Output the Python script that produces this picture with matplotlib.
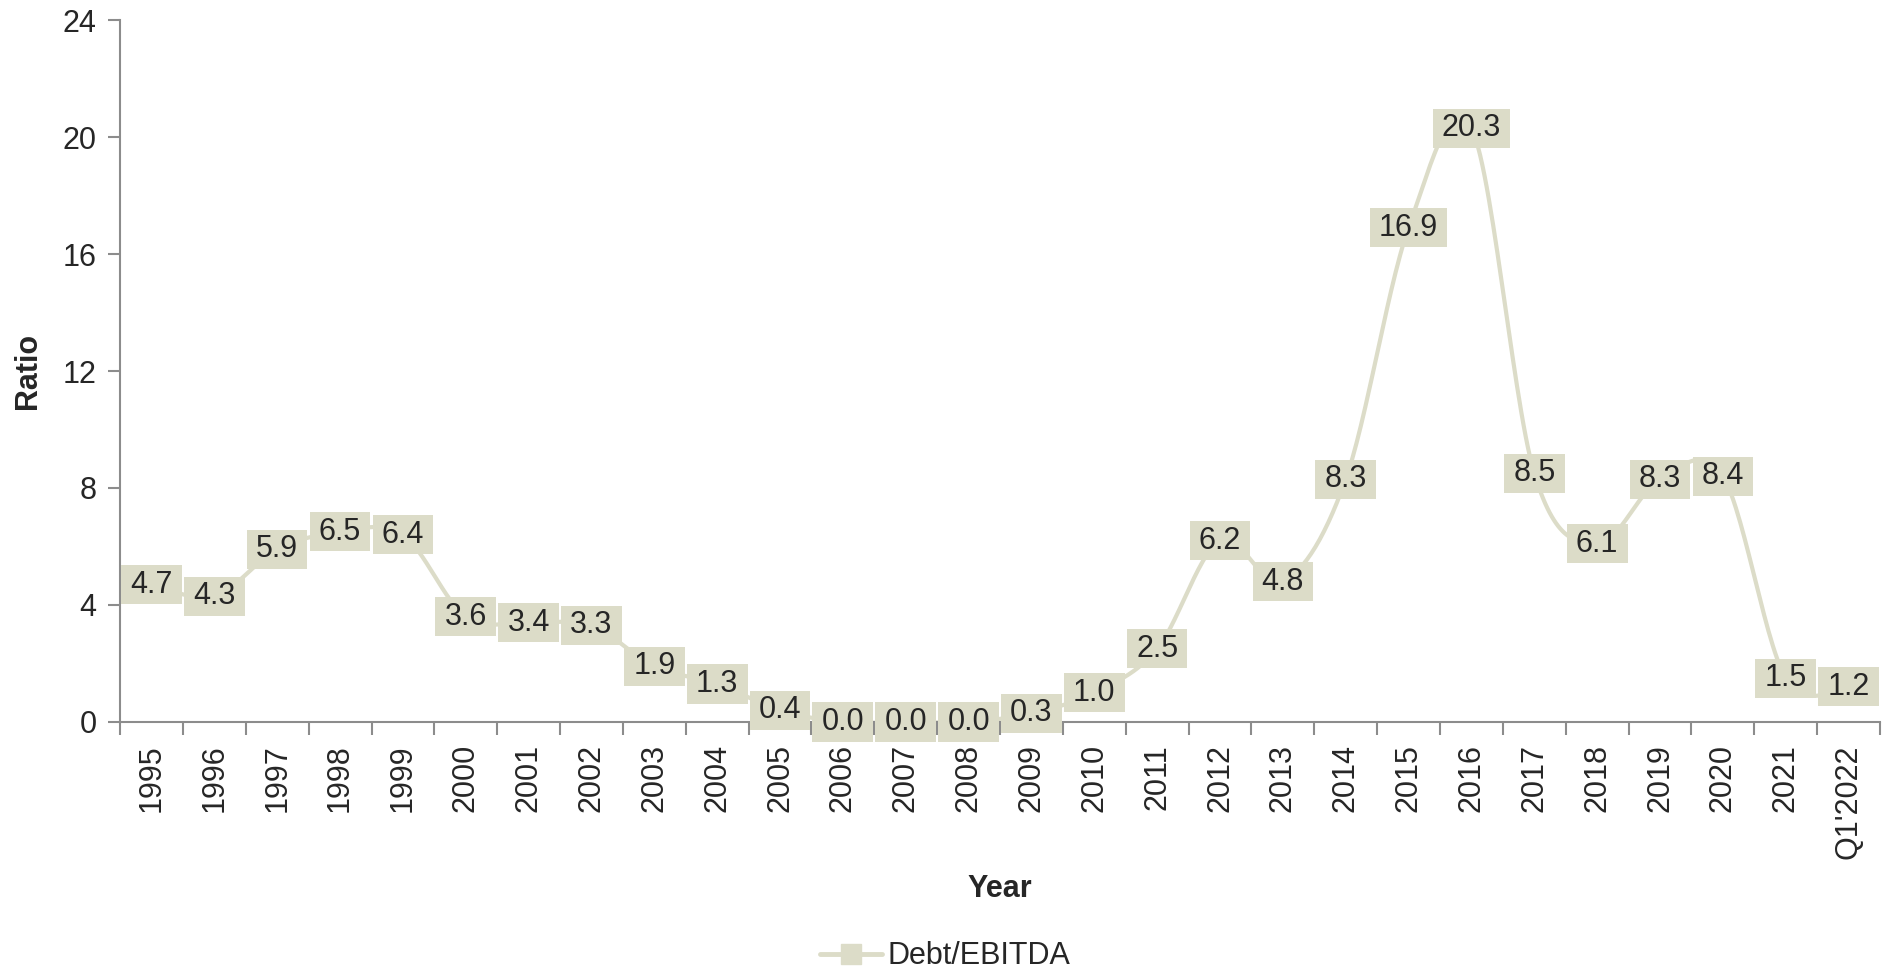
import numpy as np
import matplotlib
matplotlib.use("Agg")
import matplotlib.pyplot as plt
from matplotlib.lines import Line2D
from matplotlib.path import Path

plt.rcParams["font.family"] = ["Liberation Sans", "DejaVu Sans"]

years = ["1995", "1996", "1997", "1998", "1999", "2000", "2001", "2002",
         "2003", "2004", "2005", "2006", "2007", "2008", "2009", "2010",
         "2011", "2012", "2013", "2014", "2015", "2016", "2017", "2018",
         "2019", "2020", "2021", "Q1'2022"]
debt_ebitda = [4.7, 4.3, 5.9, 6.5, 6.4, 3.6, 3.4, 3.3, 1.9, 1.3, 0.4, 0.0,
               0.0, 0.0, 0.3, 1.0, 2.5, 6.2, 4.8, 8.3, 16.9, 20.3, 8.5, 6.1,
               8.3, 8.4, 1.5, 1.2]
y_ticks = [0, 4, 8, 12, 16, 20, 24]

LINE_COL = "#DCDCC8"
TEXT_COL = "#262626"
AXIS_COL = "#8C8C8C"


def smooth_curve(x, y, n=30):
    """Catmull-Rom style smoothing between consecutive points (Bezier, tension 1/6)."""
    x = np.asarray(x, float)
    y = np.asarray(y, float)
    px = np.concatenate([[x[0]], x, [x[-1]]])
    py = np.concatenate([[y[0]], y, [y[-1]]])
    xs, ys = [], []
    t = np.linspace(0, 1, n)[:, None]
    for i in range(1, len(px) - 2):
        p0 = np.array([px[i], py[i]])
        p3 = np.array([px[i + 1], py[i + 1]])
        p1 = p0 + (np.array([px[i + 1], py[i + 1]]) - np.array([px[i - 1], py[i - 1]])) / 6
        p2 = p3 - (np.array([px[i + 2], py[i + 2]]) - np.array([px[i], py[i]])) / 6
        b = ((1 - t) ** 3) * p0 + 3 * ((1 - t) ** 2) * t * p1 \
            + 3 * (1 - t) * t ** 2 * p2 + t ** 3 * p3
        xs.append(b[:, 0])
        ys.append(b[:, 1])
    return np.concatenate(xs), np.concatenate(ys)


def label_box(x0, y0, width, height, mutation_size):
    # rectangle with wider horizontal than vertical padding
    px = 0.30 * mutation_size
    py = 0.15 * mutation_size
    x0, x1 = x0 - px, x0 + width + px
    y0, y1 = y0 - py, y0 + height + py
    return Path([(x0, y0), (x1, y0), (x1, y1), (x0, y1), (x0, y0)], closed=True)


fig = plt.figure(figsize=(18.91, 9.73), dpi=100)
ax = fig.add_axes([0.0635, 0.258, 0.9307, 0.7214])

x = np.arange(len(years))
sx, sy = smooth_curve(x, debt_ebitda)
ax.plot(sx, sy, color=LINE_COL, linewidth=3.0, solid_capstyle="round", zorder=2)
ax.plot(x, debt_ebitda, linestyle="none", marker="s", markersize=9,
        color=LINE_COL, zorder=2)

for xi, v in zip(x, debt_ebitda):
    ax.text(xi, v, f"{v:.1f}", ha="center", va="center", fontsize=22,
            color=TEXT_COL, zorder=3,
            bbox=dict(boxstyle=label_box, facecolor=LINE_COL,
                      edgecolor="none"))

ax.set_xlim(-0.5, len(years) - 0.5)
ax.set_ylim(0, 24)
ax.set_yticks(y_ticks)
ax.set_xticks(x)
ax.set_xticklabels(years, rotation=90)
ax.set_xticks(np.arange(len(years) + 1) - 0.5, minor=True)
ax.tick_params(axis="x", which="major", length=0, pad=16,
               labelsize=22, labelcolor=TEXT_COL)
ax.tick_params(axis="x", which="minor", length=9, width=1.5,
               color=AXIS_COL, direction="out")
ax.tick_params(axis="y", length=9, width=1.5, color=AXIS_COL,
               labelsize=22, labelcolor=TEXT_COL, pad=8)

for side in ("top", "right"):
    ax.spines[side].set_visible(False)
for side in ("left", "bottom"):
    ax.spines[side].set_color(AXIS_COL)
    ax.spines[side].set_linewidth(1.5)

ax.set_ylabel("Ratio", fontsize=22, fontweight="bold", color=TEXT_COL,
              labelpad=14)
ax.set_xlabel("Year", fontsize=22, fontweight="bold", color=TEXT_COL,
              labelpad=11)

handle = Line2D([0], [0], color=LINE_COL, linewidth=3.5, marker="s",
                markersize=15, solid_capstyle="round")
fig.legend(handles=[handle], labels=["Debt/EBITDA"], loc="center",
           bbox_to_anchor=(0.5, 0.017), frameon=False, fontsize=22,
           handlelength=2.0, handletextpad=0.2, labelcolor=TEXT_COL)

fig.savefig("out.png", dpi=100)
